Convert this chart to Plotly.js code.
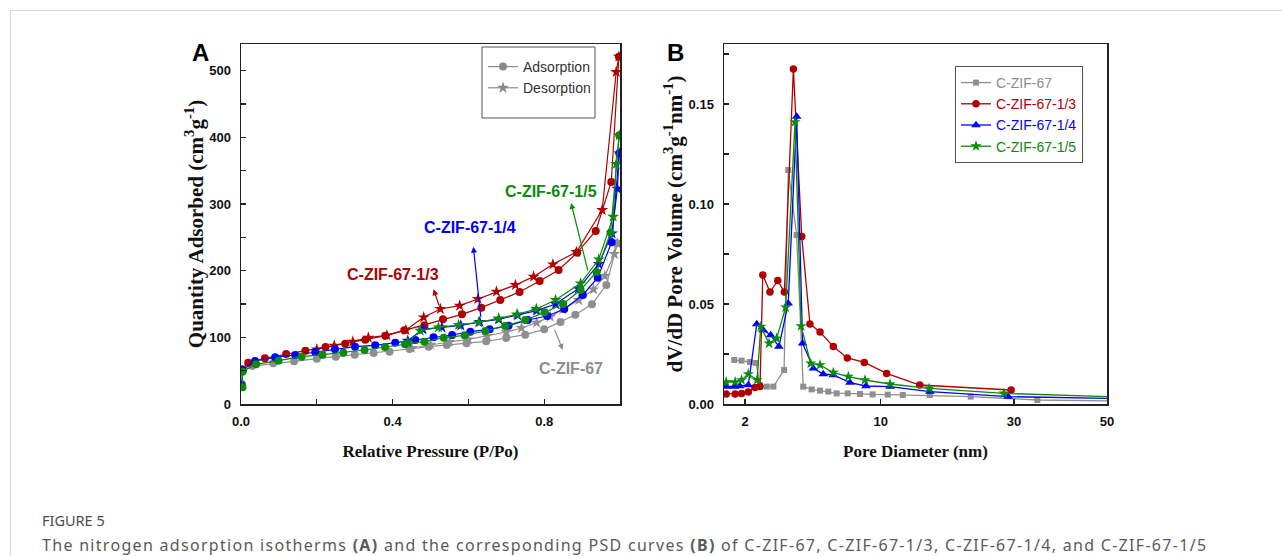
<!DOCTYPE html>
<html>
<head>
<meta charset="utf-8">
<script src="https://cdn.plot.ly/plotly-3.0.1.min.js"></script>
<style>
  html, body { margin: 0; padding: 0; background: #ffffff; }
  #chart { width: 1282px; height: 556px; }
</style>
</head>
<body>
<div id="chart"></div>
<script>
// ---------------- Panel A: N2 isotherms (P/Po, cm3/g) ----------------
const adsP_67  = [0.002,0.005,0.03,0.085,0.14,0.2,0.25,0.3,0.35,0.392,0.445,0.495,0.543,0.595,0.647,0.7,0.75,0.8,0.843,0.882,0.926,0.964,0.993];
const adsQ_67  = [30,50,57,61,64,68,71,74,76.5,78.5,82.5,86,88.5,91,94,99,104,112,123,134,149.5,178.5,241];
const desP_67  = [0.993,0.985,0.96,0.93,0.891,0.849,0.816,0.78,0.74,0.70,0.65,0.6,0.55,0.5,0.45];
const desQ_67  = [241,225,192,172,156,142,131,122,114,108,102,97,93,89,84];

const adsP_13  = [0.003,0.019,0.063,0.119,0.17,0.223,0.275,0.328,0.381,0.431,0.484,0.533,0.583,0.634,0.684,0.735,0.788,0.838,0.887,0.936,0.977,0.997];
const adsQ_13  = [52,62,68.5,75,80,85.5,90.5,96.5,102.5,110.5,118,127,134.5,144.5,156,168,184.5,201,227,259.5,333,521];
const desP_13  = [0.997,0.99,0.953,0.885,0.823,0.772,0.724,0.674,0.625,0.577,0.526,0.482,0.435,0.385,0.336,0.295,0.246,0.2];
const desQ_13  = [521,498,291,228,209.5,191,178.5,168.5,157.5,147.5,142.5,130,111,103,99.5,93.5,87.5,82];

const adsP_14  = [0.002,0.004,0.037,0.09,0.143,0.196,0.248,0.301,0.354,0.407,0.46,0.508,0.557,0.605,0.656,0.706,0.757,0.808,0.853,0.902,0.941,0.978,0.998];
const adsQ_14  = [28,51,64.5,70,73.5,78,82,86,88,92,96,100,103.5,108.5,112,117.5,126,132,142.5,163.5,189.5,242.5,376];
const desP_14  = [0.998,0.993,0.979,0.944,0.89,0.83,0.78,0.73,0.68,0.63,0.58,0.53,0.48,0.44];
const desQ_14  = [376,323,256,210,173,150,140,133,127,123,118,115,112,95];

const adsP_15  = [0.004,0.004,0.04,0.099,0.16,0.215,0.27,0.326,0.38,0.433,0.484,0.535,0.59,0.645,0.697,0.75,0.801,0.85,0.896,0.938,0.975,0.998];
const adsQ_15  = [25,48.5,59.5,65,71,74,77,81,85.5,89.5,93.5,99.5,103,109.5,117,126,137.5,150,171,198,257,403];
const desP_15  = [0.998,0.99,0.982,0.944,0.896,0.83,0.779,0.728,0.68,0.627,0.574,0.521,0.473,0.44];
const desQ_15  = [403,360,281,217,181,156,142.5,134.5,128.5,122.5,118.5,115,110,92];

// ---------------- Panel B: PSD (pore diameter nm, dV/dD) ----------------
const dia_67 = [1.76,1.92,2.12,2.28,2.39,2.59,2.80,3.18,3.34,3.69,3.99,4.41,4.87,5.37,5.93,6.76,7.82,9.09,10.6,12.0,15.0,21.0,34.1,70];
const psd_67 = [0.022,0.0217,0.021,0.0205,0.0095,0.0087,0.0087,0.017,0.117,0.0845,0.0087,0.0073,0.0067,0.0062,0.0053,0.0053,0.005,0.0048,0.0047,0.0045,0.0045,0.0037,0.002,0.0011];

const dia_13 = [1.60,1.78,1.92,2.08,2.25,2.39,2.47,2.69,2.95,3.19,3.55,3.92,4.32,4.87,5.70,6.73,8.23,10.5,13.8,29.3];
const psd_13 = [0.005,0.005,0.0053,0.006,0.0083,0.0087,0.0645,0.056,0.0617,0.056,0.1675,0.0837,0.04,0.036,0.0287,0.023,0.0208,0.0153,0.0095,0.007];

const dia_14 = [1.60,1.76,1.88,2.08,2.30,2.48,2.71,2.99,3.34,3.69,3.96,4.50,5.06,5.70,6.95,8.40,10.8,15.0,28.6,70];
const psd_14 = [0.0087,0.0087,0.009,0.0095,0.04,0.037,0.0345,0.0287,0.0503,0.1437,0.0303,0.0178,0.015,0.0145,0.0107,0.009,0.0087,0.0062,0.0037,0.0022];

const dia_15 = [1.60,1.78,1.92,2.08,2.31,2.41,2.66,2.91,3.24,3.62,3.89,4.36,4.87,5.70,6.81,8.30,10.8,14.9,27.6,70];
const psd_15 = [0.011,0.011,0.012,0.015,0.012,0.0387,0.0303,0.0328,0.0483,0.141,0.039,0.0203,0.0195,0.0157,0.0137,0.012,0.01,0.0078,0.0053,0.0028];

const seriesNames = ['C-ZIF-67','C-ZIF-67-1/3','C-ZIF-67-1/4','C-ZIF-67-1/5'];
const legendA = ['Adsorption','Desorption'];
const xTicksA = [0,0.4,0.8];
const xTickTextA = ['0.0','0.4','0.8'];
const xMinorA = [0.2,0.6];
const yTicksA = [0,100,200,300,400,500];
const yMinorA = [50,150,250,350,450];
const xTicksB = [2,10,30,50];
const yTicksB = [0,0.05,0.10,0.15];
const yTickTextB = ['0.00','0.05','0.10','0.15'];
const yMinorB = [0.025,0.075,0.125,0.175];

// Pore-diameter axis of panel B: non-uniform scale, log-interpolated between labelled ticks
const axD = [2,10,30,50], axU = [21,156.7,290,383];
function xu(d){
  const i = d < axD[1] ? 0 : (d < axD[2] ? 1 : 2);
  const t = Math.log(d/axD[i]) / Math.log(axD[i+1]/axD[i]);
  return axU[i] + t*(axU[i+1]-axU[i]);
}

const colors = ['#8e8e8e','#b00000','#0000ff','#0b8a0b'];
const W = 1282, H = 556;
const px = v => v / W, py = v => 1 - v / H;

const traces = [];
const isoA = [[adsP_67,adsQ_67,desP_67,desQ_67],[adsP_13,adsQ_13,desP_13,desQ_13],[adsP_14,adsQ_14,desP_14,desQ_14],[adsP_15,adsQ_15,desP_15,desQ_15]];
isoA.forEach((s,k)=>{
  traces.push({x:s[0], y:s[1], type:'scatter', mode:'lines+markers', xaxis:'x', yaxis:'y', showlegend:false,
    name: seriesNames[k]+' adsorption', line:{color:colors[k], width:1.2}, marker:{symbol:'circle', size:8, color:colors[k]}});
  traces.push({x:s[2], y:s[3], type:'scatter', mode:'lines+markers', xaxis:'x', yaxis:'y', showlegend:false,
    name: seriesNames[k]+' desorption', line:{color:colors[k], width:1.2}, marker:{symbol:'star', size:9, color:colors[k]}});
});
// legend keys for panel A
traces.push({x:[null], y:[null], type:'scatter', mode:'lines+markers', xaxis:'x', yaxis:'y', legend:'legend',
  name:legendA[0], line:{color:'#8a8a8a', width:1.2}, marker:{symbol:'circle', size:8, color:'#8a8a8a'}});
traces.push({x:[null], y:[null], type:'scatter', mode:'lines+markers', xaxis:'x', yaxis:'y', legend:'legend',
  name:legendA[1], line:{color:'#8a8a8a', width:1.2}, marker:{symbol:'star', size:9, color:'#8a8a8a'}});

const psdB = [[dia_67,psd_67,'square',6],[dia_13,psd_13,'circle',7.5],[dia_14,psd_14,'triangle-up',8.5],[dia_15,psd_15,'star',8.5]];
psdB.forEach((s,k)=>{
  traces.push({x:s[0].map(xu), y:s[1], customdata:s[0], type:'scatter', mode:'lines+markers', xaxis:'x2', yaxis:'y2',
    legend:'legend2', name:'<span style="color:'+colors[k]+'">'+seriesNames[k]+'</span>',
    line:{color:colors[k], width:1.3}, marker:{symbol:s[2], size:s[3], color:colors[k]}});
});

const fontArial = 'Arial, "Liberation Sans", sans-serif';
const axisBase = {showline:true, linecolor:'#222', linewidth:1.5, mirror:true, ticks:'inside', ticklen:5,
  tickwidth:1.2, tickcolor:'#222', showgrid:false, zeroline:false, ticklabelstandoff:6, tickmode:'array',
  tickfont:{family:fontArial, size:13, color:'#111', weight:'bold'}};
const minorBase = {ticks:'inside', ticklen:5, tickwidth:1.2, tickcolor:'#222', showgrid:false, tickmode:'array'};
const titleFontX = {family:'"Liberation Serif", "Times New Roman", serif', size:17, color:'#111', weight:'bold'};
const titleFontY = {family:'"Liberation Serif", "Times New Roman", serif', size:21, color:'#111', weight:'bold'};

const layout = {
  width:W, height:H, margin:{l:0,r:0,t:0,b:0}, paper_bgcolor:'#ffffff', plot_bgcolor:'#ffffff',
  showlegend:true,
  xaxis: Object.assign({}, axisBase, {domain:[px(241),px(620)], range:[0,1.0], anchor:'y', ticklabelstandoff:5,
    tickvals:xTicksA, ticktext:xTickTextA, minor:Object.assign({}, minorBase, {tickvals:xMinorA}),
    title:{text:'Relative Pressure (P/Po)', font:titleFontX, standoff:17}}),
  yaxis: Object.assign({}, axisBase, {domain:[py(404),py(44)], range:[0,540], anchor:'x',
    tickvals:yTicksA, ticktext:yTicksA.map(String), minor:Object.assign({}, minorBase, {tickvals:yMinorA}),
    title:{text:'Quantity Adsorbed (cm<sup>3</sup>g<sup>-1</sup>)', font:titleFontY, standoff:0}}),
  xaxis2: Object.assign({}, axisBase, {domain:[px(724),px(1107)], range:[0,383], anchor:'y2', ticklabelstandoff:5,
    tickvals:xTicksB.map(xu), ticktext:xTicksB.map(String),
    title:{text:'Pore Diameter (nm)', font:titleFontX, standoff:17}}),
  yaxis2: Object.assign({}, axisBase, {domain:[py(404),py(44)], range:[0,0.18], anchor:'x2',
    tickvals:yTicksB, ticktext:yTickTextB, minor:Object.assign({}, minorBase, {tickvals:yMinorB}),
    title:{text:'dV/dD Pore Volume (cm<sup>3</sup>g<sup>-1</sup>nm<sup>-1</sup>)', font:titleFontY, standoff:0}}),
  legend:{x:px(483), y:py(51), xanchor:'left', yanchor:'top', bgcolor:'rgba(0,0,0,0)', borderwidth:0,
    font:{family:fontArial, size:14, color:'#333'}, itemwidth:30, tracegroupgap:0},
  legend2:{x:px(955), y:py(66), xanchor:'left', yanchor:'top', bgcolor:'#ffffff', bordercolor:'#555', borderwidth:1,
    font:{family:fontArial, size:14, color:'#333'}, itemwidth:30, tracegroupgap:0},
  shapes:[
    {type:'line', xref:'paper', yref:'paper', x0:px(10.5), x1:1.01, y0:py(10.5), y1:py(10.5), line:{color:'#d6d6d6', width:1}},
    {type:'line', xref:'paper', yref:'paper', x0:px(10.5), x1:px(10.5), y0:py(10.5), y1:-0.01, line:{color:'#d6d6d6', width:1}},
    // frame of the panel A key
    {type:'rect', xref:'paper', yref:'paper', x0:px(482), x1:px(595), y0:py(118), y1:py(47), line:{color:'#555', width:1}, fillcolor:'rgba(0,0,0,0)', layer:'above'}
  ],
  annotations:[
    {xref:'paper', yref:'paper', x:px(200), y:py(53), xanchor:'center', yanchor:'middle', text:'<b>A</b>', showarrow:false,
      font:{family:fontArial, size:24, color:'#000'}},
    {xref:'paper', yref:'paper', x:px(675), y:py(53), xanchor:'center', yanchor:'middle', text:'<b>B</b>', showarrow:false,
      font:{family:fontArial, size:24, color:'#000'}},
    // sample labels in panel A
    {xref:'x', yref:'y', x:0.818, y:318, text:'<b>C-ZIF-67-1/5</b>', showarrow:false, font:{family:fontArial, size:16, color:colors[3]}},
    {xref:'x', yref:'y', x:0.605, y:264, text:'<b>C-ZIF-67-1/4</b>', showarrow:false, font:{family:fontArial, size:16, color:colors[2]}},
    {xref:'x', yref:'y', x:0.401, y:195, text:'<b>C-ZIF-67-1/3</b>', showarrow:false, font:{family:fontArial, size:16, color:colors[1]}},
    {xref:'x', yref:'y', x:0.871, y:54, text:'<b>C-ZIF-67</b>', showarrow:false, font:{family:fontArial, size:16, color:colors[0]}},
    // pointer arrows
    {xref:'x', yref:'y', axref:'x', ayref:'y', x:0.871, y:301.5, ax:0.916, ay:198, text:'', showarrow:true, arrowhead:2, arrowsize:1, arrowwidth:1.2, arrowcolor:colors[3]},
    {xref:'x', yref:'y', axref:'x', ayref:'y', x:0.613, y:236, ax:0.633, ay:128.5, text:'', showarrow:true, arrowhead:2, arrowsize:1, arrowwidth:1.2, arrowcolor:colors[2]},
    {xref:'x', yref:'y', axref:'x', ayref:'y', x:0.508, y:172, ax:0.524, ay:145.5, text:'', showarrow:true, arrowhead:2, arrowsize:1, arrowwidth:1.2, arrowcolor:colors[1]},
    {xref:'x', yref:'y', axref:'x', ayref:'y', x:0.849, y:81, ax:0.826, ay:113.5, text:'', showarrow:true, arrowhead:2, arrowsize:1, arrowwidth:1.2, arrowcolor:colors[0]},
    // caption
    {xref:'paper', yref:'paper', x:px(40), y:py(520), xanchor:'left', yanchor:'middle', text:'FIGURE 5', showarrow:false,
      font:{family:'"Noto Sans", "Open Sans", sans-serif', size:14.5, color:'#4d4d4d'}},
    {xref:'paper', yref:'paper', x:px(40), y:py(545), xanchor:'left', yanchor:'middle', showarrow:false,
      text:'The nitrogen adsorption isotherms <b>(A)</b> and the corresponding PSD curves <b>(B)</b> of C-ZIF-67, C-ZIF-67-1/3, C-ZIF-67-1/4, and C-ZIF-67-1/5',
      font:{family:'"Noto Sans", "Open Sans", sans-serif', size:16, color:'#5a5a5a'}}
  ]
};

Plotly.newPlot('chart', traces, layout, {displayModeBar:false, staticPlot:true}).then(gd => {
  // the source caption is set with wide tracking; keep its left edge where it was
  gd.querySelectorAll('.annotation-text').forEach(t => {
    if (t.textContent.indexOf('The nitrogen') === 0) {
      const before = t.getBBox().x;
      t.style.letterSpacing = '1.3px';
      const after = t.getBBox().x;
      const x0 = parseFloat(t.getAttribute('x')) || 0;
      t.setAttribute('x', x0 + (before - after));
    }
  });
});
</script>
</body>
</html>
